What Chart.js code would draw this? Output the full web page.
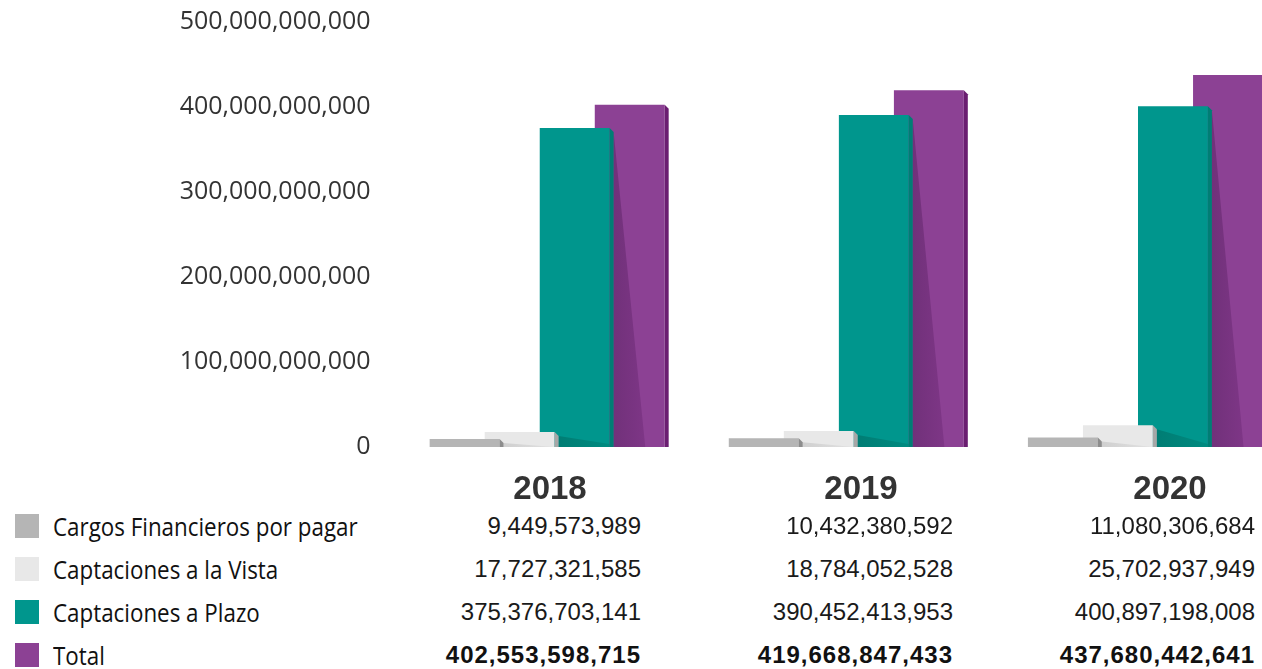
<!DOCTYPE html>
<html>
<head>
<meta charset="utf-8">
<script src="https://cdn.jsdelivr.net/npm/chart.js@4/dist/chart.umd.min.js"></script>
<style>
  html, body { margin: 0; padding: 0; background: #ffffff; }
  body { width: 1262px; height: 669px; overflow: hidden; position: relative; }
  #wrap { position: absolute; left: 0; top: 0; width: 1295px; height: 470px; }
  .row { position: absolute; height: 30px; line-height: 30px; white-space: nowrap; }
  .sw { position: absolute; left: 15px; width: 24px; height: 24px; }
  .lg { position: absolute; left: 53px; font-family: "Open Sans", "Noto Sans", sans-serif; font-size: 26px; color: #111111; transform: scaleX(0.86); transform-origin: 0 50%; }
  .val { position: absolute; width: 320px; text-align: right; font-family: "Liberation Sans", Arial, sans-serif; font-size: 24px; color: #1a1a1a; }
  .val.b { font-weight: bold; letter-spacing: 1px; color: #111; }
  .yr { position: absolute; width: 200px; text-align: center; font-family: "Liberation Sans", Arial, sans-serif; font-weight: bold; font-size: 33px; color: #333333; }
</style>
</head>
<body>
<div id="wrap"><canvas id="c" width="1295" height="470"></canvas></div>
<div id="tbl"></div>
<script>
// ---- data ----
const categories = ['2018', '2019', '2020'];
const seriesNames = ['Cargos Financieros por pagar', 'Captaciones a la Vista', 'Captaciones a Plazo', 'Total'];
const cargosFinancieros = [9449573989, 10432380592, 11080306684];
const captacionesVista = [17727321585, 18784052528, 25702937949];
const captacionesPlazo = [375376703141, 390452413953, 400897198008];
const totalValues = [402553598715, 419668847433, 437680442641];
const yTickValues = [0, 100000000000, 200000000000, 300000000000, 400000000000, 500000000000];

// ---- styles ----
const colors = ['#b5b5b5', '#e8e8e8', '#00968d', '#8c4194'];
const sideColors = ['#8d8d8d', '#a7a7a7', '#007e74', '#6b1e71'];
const shadowColors = [['#cfcfcf', '#e2e2e2'], ['#007d74', '#008a80'], ['#71317a', '#86398e']];
const shadowReach = [1, 1, 0.62];

const fmt = v => String(v).replace(/\B(?=(\d{3})+(?!\d))/g, ',');

const bar3d = {
  id: 'bar3d',
  afterDatasetsDraw(chart) {
    const ctx = chart.ctx;
    const n = chart.data.datasets.length;
    const metas = chart.data.datasets.map((_, i) => chart.getDatasetMeta(i));
    const d = 4;
    ctx.save();
    for (let j = 0; j < chart.data.labels.length; j++) {
      const bars = metas.map(m => m.data[j].getProps(['x', 'y', 'base', 'width'], true));
      for (let i = 0; i < n - 1; i++) {
        const f = bars[i], b = bars[i + 1];
        const sx = f.x + f.width / 2 + d;
        const bRight = b.x + b.width / 2;
        const top = Math.max(f.y + d, b.y);
        const ex = sx + shadowReach[i] * (bRight - sx);
        const base = b.base;
        const g = ctx.createLinearGradient(sx, 0, bRight, 0);
        g.addColorStop(0, shadowColors[i][0]);
        g.addColorStop(1, shadowColors[i][1]);
        ctx.fillStyle = g;
        ctx.beginPath();
        ctx.moveTo(sx, top);
        ctx.lineTo(ex, base - (i === 1 ? 3 : 0));
        ctx.lineTo(ex, base);
        ctx.lineTo(sx, base);
        ctx.closePath();
        ctx.fill();
      }
      for (let i = n - 1; i >= 0; i--) {
        const p = bars[i];
        const r = p.x + p.width / 2;
        ctx.fillStyle = sideColors[i];
        ctx.beginPath();
        ctx.moveTo(r, p.y);
        ctx.lineTo(r + d, p.y + d);
        ctx.lineTo(r + d, p.base);
        ctx.lineTo(r, p.base);
        ctx.closePath();
        ctx.fill();
      }
    }
    ctx.restore();
  }
};

const seriesValues = [cargosFinancieros, captacionesVista, captacionesPlazo, totalValues];

new Chart(document.getElementById('c'), {
  type: 'bar',
  data: {
    labels: categories,
    datasets: seriesValues.map((vals, i) => ({
      label: seriesNames[i],
      data: vals,
      backgroundColor: colors[i],
      borderWidth: 0,
      categoryPercentage: 0.736,
      barPercentage: 1.27
    }))
  },
  options: {
    responsive: false,
    animation: false,
    events: [],
    layout: { padding: { top: 22, bottom: 23, left: 0, right: 0 } },
    plugins: { legend: { display: false }, tooltip: { enabled: false } },
    scales: {
      x: { type: 'category', display: false, offset: true },
      y: {
        min: 0,
        max: 500000000000,
        afterBuildTicks: (scale) => { scale.ticks = yTickValues.map(v => ({ value: v })); },
        afterFit: (scale) => { scale.width = 397.6; scale.paddingTop = 0; scale.paddingBottom = 0; },
        grid: { display: false, drawTicks: false },
        border: { display: false },
        ticks: {
          padding: 27,
          color: '#333333',
          font: { family: '"Open Sans", "Noto Sans", sans-serif', size: 25 },
          callback: (v) => fmt(v)
        }
      }
    }
  },
  plugins: [bar3d]
});

// ---- legend + data table ----
const tbl = document.getElementById('tbl');
const rowCenters = [526, 569, 612, 655];
const yearCenterY = 488;
const colRight = [641, 953, 1255];
const yearCenterX = [550, 861, 1170];

categories.forEach((c, k) => {
  const y = document.createElement('div');
  y.className = 'row yr';
  y.style.top = (yearCenterY - 15) + 'px';
  y.style.left = (yearCenterX[k] - 100) + 'px';
  y.textContent = c;
  tbl.appendChild(y);
});

seriesNames.forEach((name, i) => {
  const sw = document.createElement('div');
  sw.className = 'sw';
  sw.style.top = (rowCenters[i] - 12) + 'px';
  sw.style.background = colors[i];
  tbl.appendChild(sw);
  const lg = document.createElement('div');
  lg.className = 'row lg';
  lg.style.top = (rowCenters[i] - 15) + 'px';
  lg.textContent = name;
  tbl.appendChild(lg);
  seriesValues[i].forEach((v, k) => {
    const cell = document.createElement('div');
    cell.className = 'row val' + (i === 3 ? ' b' : '');
    cell.style.top = (rowCenters[i] - 15) + 'px';
    cell.style.left = (colRight[k] - 320) + 'px';
    cell.textContent = fmt(v);
    tbl.appendChild(cell);
  });
});
</script>
</body>
</html>
